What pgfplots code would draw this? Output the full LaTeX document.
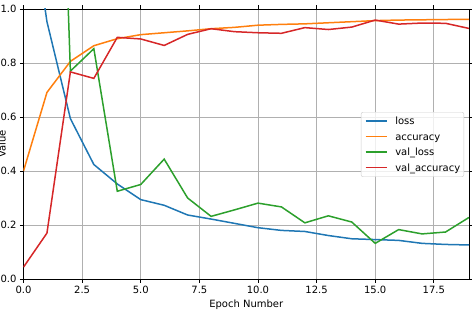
\documentclass[border=0pt]{standalone}
\usepackage{pgfplots}
\pgfplotsset{compat=1.18}
\usepackage{fontspec}
\setmainfont{DejaVu Sans}
\definecolor{tblue}{HTML}{1F77B4}
\definecolor{torange}{HTML}{FF7F0E}
\definecolor{tgreen}{HTML}{2CA02C}
\definecolor{tred}{HTML}{D62728}
\begin{document}
\begin{tikzpicture}
\begin{axis}[
  scale only axis, width=445.5bp, height=270bp,
  xmin=0, xmax=19, ymin=0, ymax=1,
  xtick={0,2.5,...,17.5}, ytick={0,0.2,...,1.0},
  xticklabel style={/pgf/number format/fixed,/pgf/number format/fixed zerofill,/pgf/number format/precision=1},
  yticklabel style={/pgf/number format/fixed,/pgf/number format/fixed zerofill,/pgf/number format/precision=1},
  /pgf/number format/assume math mode=true,
  ticklabel style={font=\fontsize{10bp}{12bp}\selectfont},
  label style={font=\fontsize{10bp}{12bp}\selectfont},
  tick align=outside, major tick length=3.5bp,
  tick style={black, line width=0.8bp},
  axis line style={line width=0.8bp},
  grid=major, grid style={color=black!31, line width=0.8bp},
  xlabel={Epoch Number}, ylabel={Value},
  xlabel style={yshift=1bp}, ylabel style={yshift=-12bp},
  legend cell align=left,
  legend style={at={(0.989,0.6185)}, anchor=north east, draw=black!20, rounded corners=2bp, fill=white, fill opacity=0.8, text opacity=1, font=\fontsize{10bp}{12bp}\selectfont, row sep=0bp, inner xsep=3.7bp, inner ysep=1.25bp,
    nodes={inner sep=0bp, text height=11.25bp, text depth=4.25bp},
    /tikz/every odd column/.append style={column sep=8bp}},
  legend image code/.code={\draw[#1, line width=1.5bp] (0bp,0bp) -- (21bp,0bp);},
  every axis plot/.append style={line width=1.5bp},
  clip=true,
]
\addplot[tblue] coordinates {(0,1.55)(1,0.953)(2,0.594)(3,0.424)(4,0.352)(5,0.294)(6,0.273)(7,0.237)(8,0.222)(9,0.206)(10,0.19)(11,0.18)(12,0.176)(13,0.161)(14,0.149)(15,0.146)(16,0.143)(17,0.132)(18,0.128)(19,0.126)};
\addlegendentry{loss}
\addplot[torange] coordinates {(0,0.40)(1,0.691)(2,0.806)(3,0.864)(4,0.89)(5,0.905)(6,0.912)(7,0.919)(8,0.927)(9,0.932)(10,0.94)(11,0.943)(12,0.945)(13,0.949)(14,0.953)(15,0.957)(16,0.959)(17,0.96)(18,0.961)(19,0.962)};
\addlegendentry{accuracy}
\addplot[tgreen] coordinates {(0,2.5)(1,3.3)(2,0.77)(3,0.853)(4,0.325)(5,0.35)(6,0.444)(7,0.30)(8,0.232)(9,0.256)(10,0.281)(11,0.267)(12,0.208)(13,0.234)(14,0.211)(15,0.132)(16,0.183)(17,0.167)(18,0.174)(19,0.228)};
\addlegendentry{val\_loss}
\addplot[tred] coordinates {(0,0.044)(1,0.17)(2,0.767)(3,0.743)(4,0.895)(5,0.889)(6,0.865)(7,0.906)(8,0.927)(9,0.916)(10,0.912)(11,0.91)(12,0.931)(13,0.924)(14,0.933)(15,0.959)(16,0.944)(17,0.948)(18,0.947)(19,0.928)};
\addlegendentry{val\_accuracy}
\coordinate (bl) at (rel axis cs:0,0);
\coordinate (tr) at (rel axis cs:1,1);
\end{axis}
\pgfresetboundingbox
\path[use as bounding box] ([shift={(-23.5bp,-37bp)}]bl) rectangle ([shift={(3bp,9bp)}]tr);
\end{tikzpicture}
\end{document}
